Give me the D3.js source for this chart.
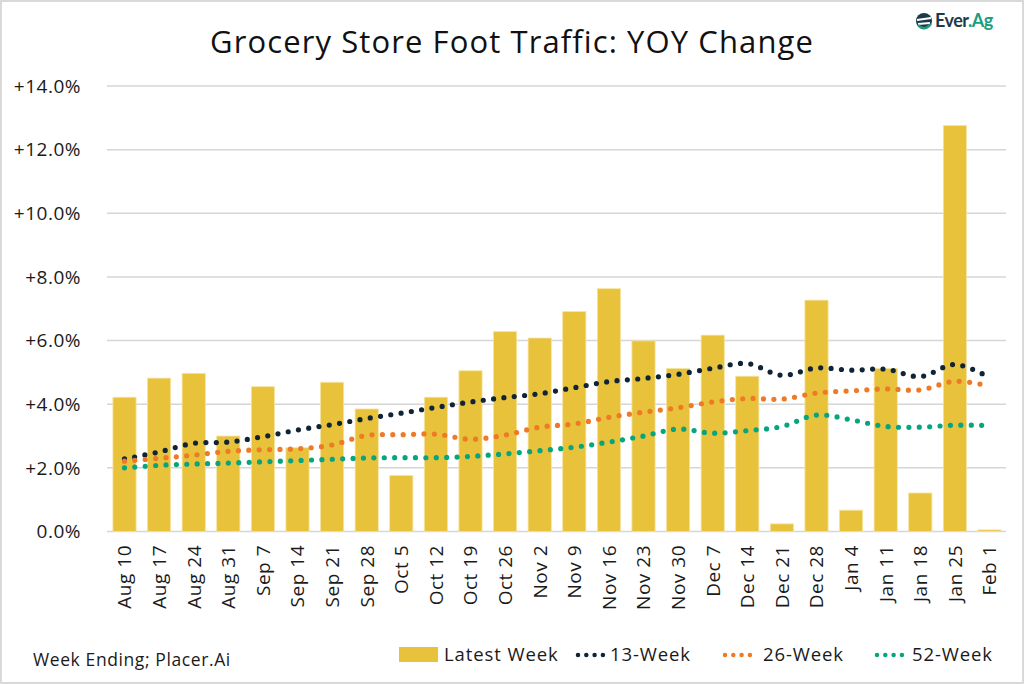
<!DOCTYPE html>
<html lang="en">
<head>
<meta charset="UTF-8">
<title>Grocery Store Foot Traffic: YOY Change</title>
<script src="https://d3js.org/d3.v7.min.js"></script>
<style>
    body { margin: 0; background: #fff; font-family: "Open Sans", Lato, sans-serif; }
    svg { display: block; }
</style>
</head>
<body>
<div id="chart"></div>
<script>
// week ending labels
const weeks = ["Aug 10", "Aug 17", "Aug 24", "Aug 31", "Sep 7", "Sep 14", "Sep 21", "Sep 28",
    "Oct 5", "Oct 12", "Oct 19", "Oct 26", "Nov 2", "Nov 9", "Nov 16", "Nov 23", "Nov 30",
    "Dec 7", "Dec 14", "Dec 21", "Dec 28", "Jan 4", "Jan 11", "Jan 18", "Jan 25", "Feb 1"];

// YOY change, percent
const latestWeek = [4.22, 4.82, 4.97, 3.0, 4.55, 2.63, 4.69, 3.85, 1.76, 4.22, 5.05, 6.28, 6.08,
    6.91, 7.63, 5.99, 5.12, 6.17, 4.88, 0.24, 7.27, 0.67, 5.12, 1.21, 12.76, 0.05];
const week13 = [2.28, 2.5, 2.77, 2.81, 2.98, 3.19, 3.36, 3.55, 3.72, 3.9, 4.07, 4.21, 4.33,
    4.52, 4.71, 4.81, 4.94, 5.13, 5.28, 4.91, 5.14, 5.07, 5.1, 4.87, 5.25, 4.84];
const week26 = [2.21, 2.3, 2.4, 2.52, 2.57, 2.6, 2.72, 3.02, 3.04, 3.06, 2.9, 3.03, 3.28,
    3.38, 3.59, 3.75, 3.89, 4.07, 4.18, 4.16, 4.35, 4.42, 4.48, 4.45, 4.72, 4.57];
const week52 = [2.0, 2.08, 2.12, 2.15, 2.19, 2.23, 2.27, 2.31, 2.32, 2.32, 2.36, 2.44, 2.54,
    2.65, 2.81, 3.0, 3.22, 3.09, 3.17, 3.3, 3.66, 3.51, 3.3, 3.28, 3.34, 3.33];

const yTicks = [0, 2, 4, 6, 8, 10, 12, 14];

const lineSeries = [
    {name: "13-Week", values: week13, color: "#0f2537"},
    {name: "26-Week", values: week26, color: "#ef7a26"},
    {name: "52-Week", values: week52, color: "#06a57f"}
];

const width = 1024, height = 684;
const barColor = "#e8c23a";

const svg = d3.select("#chart").append("svg")
    .attr("width", width)
    .attr("height", height);

// outer frame
svg.append("rect")
    .attr("x", 1).attr("y", 1)
    .attr("width", width - 2).attr("height", height - 2)
    .attr("fill", "#fff")
    .attr("stroke", "#d9d9d9")
    .attr("stroke-width", 2);

const x = d3.scaleBand().domain(weeks).range([107.2, 1006.8]).paddingInner(0.33).paddingOuter(0.165);
const y = d3.scaleLinear().domain([0, 14]).range([531.5, 86]);

// gridlines
svg.append("g")
    .selectAll("line")
    .data(yTicks)
    .join("line")
    .attr("x1", 107).attr("x2", 1006)
    .attr("y1", d => y(d)).attr("y2", d => y(d))
    .attr("stroke", "#d6d6d6")
    .attr("stroke-width", 1.5);

// y axis labels
svg.append("g")
    .selectAll("text")
    .data(yTicks)
    .join("text")
    .attr("x", 81)
    .attr("y", d => y(d))
    .attr("dy", "0.36em")
    .attr("text-anchor", "end")
    .attr("font-size", 19)
    .attr("letter-spacing", 0.5)
    .attr("fill", "#1a1a1a")
    .text(d => (d === 0 ? "" : "+") + d.toFixed(1) + "%");

// bars
svg.append("g")
    .selectAll("rect")
    .data(latestWeek)
    .join("rect")
    .attr("x", (d, i) => x(weeks[i]))
    .attr("y", d => y(d))
    .attr("width", x.bandwidth())
    .attr("height", d => y(0) - y(d))
    .attr("fill", barColor)
    .attr("stroke", "#f6e3a0")
    .attr("stroke-width", 0.8);

// x axis labels, rotated
svg.append("g")
    .selectAll("text")
    .data(weeks)
    .join("text")
    .attr("transform", d => `translate(${x(d) + x.bandwidth() / 2},545) rotate(-90)`)
    .attr("dy", "0.36em")
    .attr("text-anchor", "end")
    .attr("font-size", 19)
    .attr("letter-spacing", 0.5)
    .attr("fill", "#1a1a1a")
    .text(d => d);

// dotted smooth lines
const line = d3.line()
    .x((d, i) => x(weeks[i]) + x.bandwidth() / 2)
    .y(d => y(d))
    .curve(d3.curveCatmullRom.alpha(0.5));

svg.append("g")
    .selectAll("path")
    .data(lineSeries)
    .join("path")
    .attr("d", d => line(d.values))
    .attr("fill", "none")
    .attr("stroke", d => d.color)
    .attr("stroke-width", 5.2)
    .attr("stroke-linecap", "round")
    .attr("stroke-dasharray", "0 10.4");

// title
svg.append("text")
    .attr("x", 512).attr("y", 53)
    .attr("text-anchor", "middle")
    .attr("font-size", 31)
    .attr("letter-spacing", 1.1)
    .attr("fill", "#111")
    .text("Grocery Store Foot Traffic: YOY Change");

// source note
svg.append("text")
    .attr("x", 33).attr("y", 666)
    .attr("font-size", 17.5)
    .attr("letter-spacing", 0.6)
    .attr("fill", "#1a1a1a")
    .text("Week Ending; Placer.Ai");

// legend
const legend = svg.append("g").attr("font-size", 18.5).attr("letter-spacing", 0.9).attr("fill", "#1a1a1a");
legend.append("rect")
    .attr("x", 399).attr("y", 647).attr("width", 39).attr("height", 15)
    .attr("fill", barColor);
legend.append("text").attr("x", 444).attr("y", 661).text("Latest Week");

const legendPos = [578, 725, 877];
const legendText = [610, 763, 912];
lineSeries.forEach((s, i) => {
    legend.append("line")
        .attr("x1", legendPos[i]).attr("x2", legendPos[i] + 25)
        .attr("y1", 655).attr("y2", 655)
        .attr("stroke", s.color)
        .attr("stroke-width", 4.5)
        .attr("stroke-linecap", "round")
        .attr("stroke-dasharray", "0 8.3");
    legend.append("text").attr("x", legendText[i]).attr("y", 661).text(s.name);
});

// logo
const logo = svg.append("g").attr("transform", "translate(916,12)");
logo.append("circle").attr("cx", 8).attr("cy", 9).attr("r", 8).attr("fill", "#1d3a4c");
logo.append("path").attr("d", "M1,8 L15,6 M2,12 L14,11").attr("stroke", "#fff").attr("stroke-width", 1.8);
logo.append("path").attr("d", "M2,13 Q8,20 15,12").attr("stroke", "#1b9e7c").attr("stroke-width", 2.5).attr("fill", "none");
const logoText = logo.append("text")
    .attr("x", 19).attr("y", 15)
    .attr("font-family", "Lato, sans-serif")
    .attr("font-size", 18)
    .attr("font-weight", 700)
    .attr("letter-spacing", -0.5);
logoText.append("tspan").attr("fill", "#1d3a4c").text("Ever");
logoText.append("tspan").attr("fill", "#1b9e7c").text(".Ag");
</script>
</body>
</html>
